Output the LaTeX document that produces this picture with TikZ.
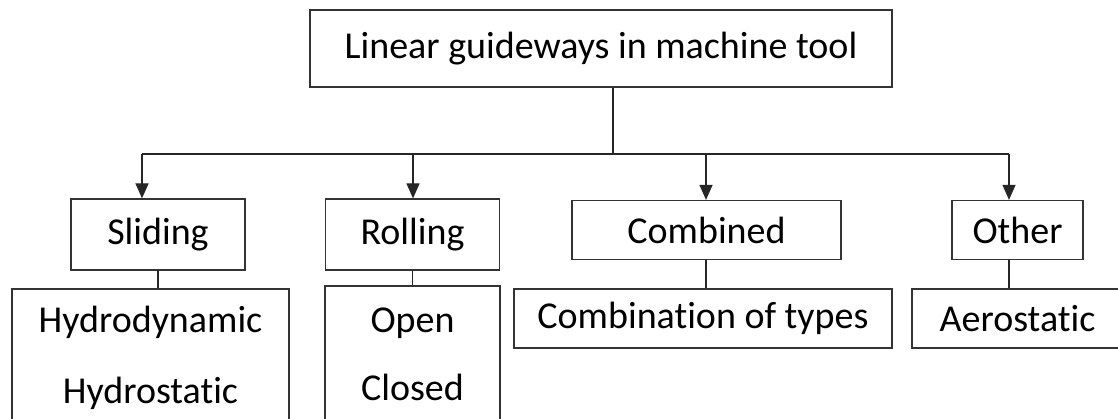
\documentclass[tikz,border=0pt]{standalone}
\usepackage{fontspec}
\setmainfont{Carlito}[Ligatures=NoCommon]
\usepackage{tikz}
\usetikzlibrary{shapes,arrows.meta}

\tikzset{
  box/.style={draw=black!80, line width=1.2pt, rectangle, inner sep=0pt,
    align=center, font=\fontsize{38}{46}\selectfont},
  link/.style={draw=black!85, line width=1.2pt},
  arr/.style={link, -{Triangle[width=13pt,length=15pt]}}
}

\begin{document}
\begin{tikzpicture}[x=1pt, y=-1pt]
  \useasboundingbox (0,0) rectangle (1118,419);

  % boxes
  \node[box, minimum width=582, minimum height=77] (top) at (601,48.5) {Linear guideways in machine tool};
  \node[box, minimum width=174, minimum height=71] (sliding) at (158,234.5) {Sliding};
  \node[box, minimum width=174, minimum height=71] (rolling) at (412.5,234.5) {Rolling};
  \node[box, minimum width=269, minimum height=59] (combined) at (706.5,230) {Combined};
  \node[box, minimum width=131, minimum height=59] (other) at (1017.5,230) {Other};

  % sub boxes
  \node[box, minimum width=277, minimum height=137] (slidsub) at (150.5,357.5) {Hydrodynamic\\[25pt]Hydrostatic};
  \node[box, minimum width=175, minimum height=136] (rollsub) at (412.5,354) {Open\\[22pt]Closed};
  \node[box, minimum width=378, minimum height=59] (combsub) at (703,318.5) {Combination of types};
  \node[box, minimum width=211, minimum height=59] (aerosub) at (1017.5,318.5) {Aerostatic};

  % bus
  \coordinate (j0) at (613,154);
  \coordinate (j1) at (142,154);
  \coordinate (j2) at (413,154);
  \coordinate (j3) at (706,154);
  \coordinate (j4) at (1009,154);
  \draw[link] (j0 |- top.south) -- (j0);
  \draw[link] (j1) -- (j4);

  % arrows
  \draw[arr] (j1) -- (j1 |- sliding.north);
  \draw[arr] (j2) -- (j2 |- rolling.north);
  \draw[arr] (j3) -- (j3 |- combined.north);
  \draw[arr] (j4) -- (j4 |- other.north);

  % links to sub boxes
  \draw[link] (sliding.south) -- (sliding.south |- slidsub.north);
  \draw[link] (rolling.south) -- (rolling.south |- rollsub.north);
  \draw[link] (j3 |- combined.south) -- (j3 |- combsub.north);
  \draw[link] (j4 |- other.south) -- (j4 |- aerosub.north);
\end{tikzpicture}
\end{document}
